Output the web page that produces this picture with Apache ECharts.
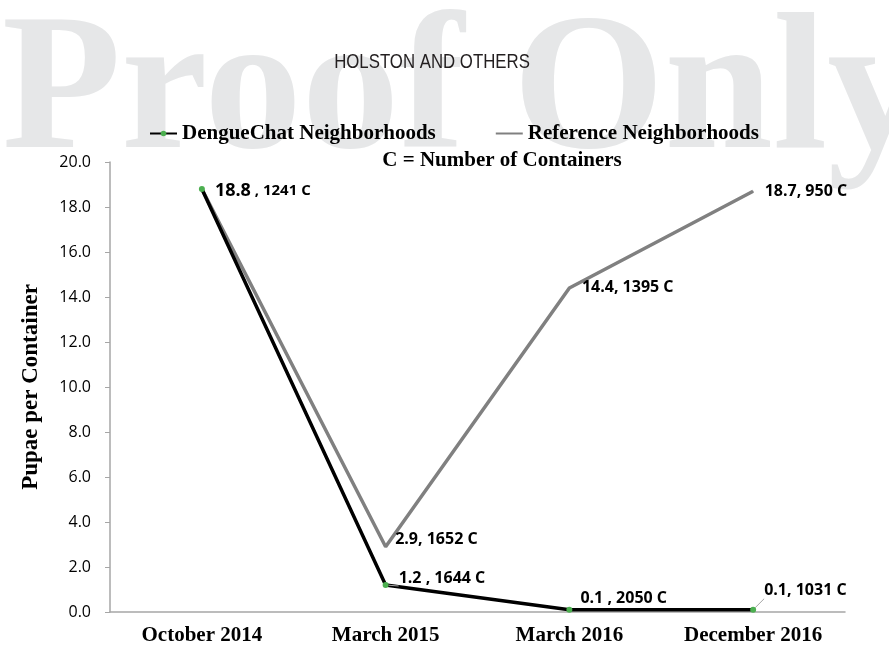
<!DOCTYPE html>
<html>
<head>
<meta charset="utf-8">
<script src="https://cdn.jsdelivr.net/npm/echarts@6/dist/echarts.min.js"></script>
<style>
html, body { margin: 0; padding: 0; background: #fff; }
#chart { width: 889px; height: 647px; }
</style>
</head>
<body>
<div id="chart"></div>
<script>
// 数据
var categories = ["October 2014", "March 2015", "March 2016", "December 2016"];
var dengueValues = [18.8, 1.2, 0.1, 0.1];
var dengueContainers = [1241, 1644, 2050, 1031];
var refValues = [18.8, 2.9, 14.4, 18.7];
var refContainers = [null, 1652, 1395, 950];

// 标签偏移（像素）
var dengueOffsets = [[5, 2], [5, -7], [3, -11], [3, -19]];
var refOffsets = [[0, 0], [4, -7], [7, -1], [6, 0]];

var serif = '"Liberation Serif", "Times New Roman", serif';
var sans = '"Open Sans", "Noto Sans", sans-serif';

function buildData(values, containers, offsets, leader) {
	return values.map(function (v, i) {
		var item = { value: v };
		if (containers[i] == null) {
			item.label = { show: false };
			return item;
		}
		item.label = { offset: offsets[i] };
		if (leader && leader.indexOf(i) >= 0) {
			item.labelLine = { show: true };
		}
		return item;
	});
}

var myChart = echarts.init(document.getElementById("chart"));
var option = {
	animation: false,
	backgroundColor: "#fff",
	graphic: [
		{
			type: "text",
			z: -10,
			silent: true,
			x: 2,
			y: 97,
			style: {
				text: "Proof Only",
				font: "bold 195px " + serif,
				fill: "#e6e7e8",
				verticalAlign: "middle",
			},
		},
		{
			type: "text",
			x: 432,
			y: 62,
			scaleX: 0.8,
			style: {
				text: "HOLSTON AND OTHERS",
				font: "21px \"Liberation Sans\", Arial, sans-serif",
				fill: "#231f20",
				align: "center",
				verticalAlign: "middle",
			},
		},
	],
	title: {
		text: "C = Number of Containers",
		left: 497,
		top: 145,
		textAlign: "center",
		textStyle: {
			fontFamily: serif,
			fontWeight: "bold",
			fontSize: 21,
			color: "#000",
		},
	},
	legend: {
		left: 144,
		top: 118,
		itemGap: 59,
		itemWidth: 27,
		itemHeight: 7,
		textStyle: {
			fontFamily: serif,
			fontWeight: "bold",
			fontSize: 21,
			color: "#000",
		},
		data: [
			"DengueChat Neighborhoods",
			{ name: "Reference Neighborhoods", itemStyle: { opacity: 0 } },
		],
	},
	grid: {
		left: 110,
		right: 44,
		top: 162,
		bottom: 35,
		containLabel: false,
		outerBoundsMode: "none",
	},
	xAxis: {
		type: "category",
		data: categories,
		boundaryGap: true,
		axisLine: { lineStyle: { color: "#a6a6a6", width: 1.5 } },
		axisTick: { show: false },
		axisLabel: {
			margin: 13,
			fontFamily: serif,
			fontWeight: "bold",
			fontSize: 21,
			color: "#000",
		},
	},
	yAxis: {
		type: "value",
		min: 0,
		max: 20,
		interval: 2,
		name: "Pupae per Container",
		nameLocation: "middle",
		nameGap: 67,
		nameTextStyle: {
			fontFamily: serif,
			fontWeight: "bold",
			fontSize: 23,
			color: "#000",
		},
		splitLine: { show: false },
		axisLine: { show: true, lineStyle: { color: "#a6a6a6", width: 1.5 } },
		axisTick: { show: true, length: 5, lineStyle: { color: "#a6a6a6" } },
		axisLabel: {
			margin: 19,
			fontFamily: sans,
			fontSize: 16,
			color: "#000",
			formatter: function (v) {
				return v.toFixed(1);
			},
		},
	},
	series: [
		{
			name: "Reference Neighborhoods",
			type: "line",
			data: buildData(refValues, refContainers, refOffsets, []),
			symbol: "circle",
			symbolSize: 1,
			showSymbol: true,
			lineStyle: { color: "#808080", width: 3.5 },
			itemStyle: { color: "#808080" },
			z: 2,
			label: {
				show: true,
				position: "right",
				distance: 5,
				fontFamily: sans,
				fontWeight: "bold",
				fontSize: 16,
				color: "#000",
				opacity: 1,
				formatter: function (p) {
					return p.value + ", " + refContainers[p.dataIndex] + " C";
				},
			},
		},
		{
			name: "DengueChat Neighborhoods",
			type: "line",
			data: buildData(dengueValues, dengueContainers, dengueOffsets, [1, 3]),
			symbol: "circle",
			symbolSize: 6,
			showSymbol: true,
			lineStyle: { color: "#000", width: 3.5 },
			itemStyle: { color: "#4caf50", borderWidth: 0 },
			z: 3,
			labelLine: {
				lineStyle: { color: "#a6a6a6", width: 1 },
			},
			label: {
				show: true,
				position: "right",
				fontFamily: sans,
				fontWeight: "bold",
				fontSize: 16,
				color: "#000",
				formatter: function (p) {
					var i = p.dataIndex;
					if (i == 0) {
						return "{a|" + p.value.toFixed(1) + "}{b| , " + dengueContainers[i] + " C}";
					}
					return p.value.toFixed(1) + (i == 3 ? ", " : " , ") + dengueContainers[i] + " C";
				},
				rich: {
					a: { fontFamily: sans, fontWeight: "bold", fontSize: 18, color: "#000" },
					b: { fontFamily: sans, fontWeight: "bold", fontSize: 15, color: "#000" },
				},
			},
		},
	],
};
myChart.setOption(option);
</script>
</body>
</html>
